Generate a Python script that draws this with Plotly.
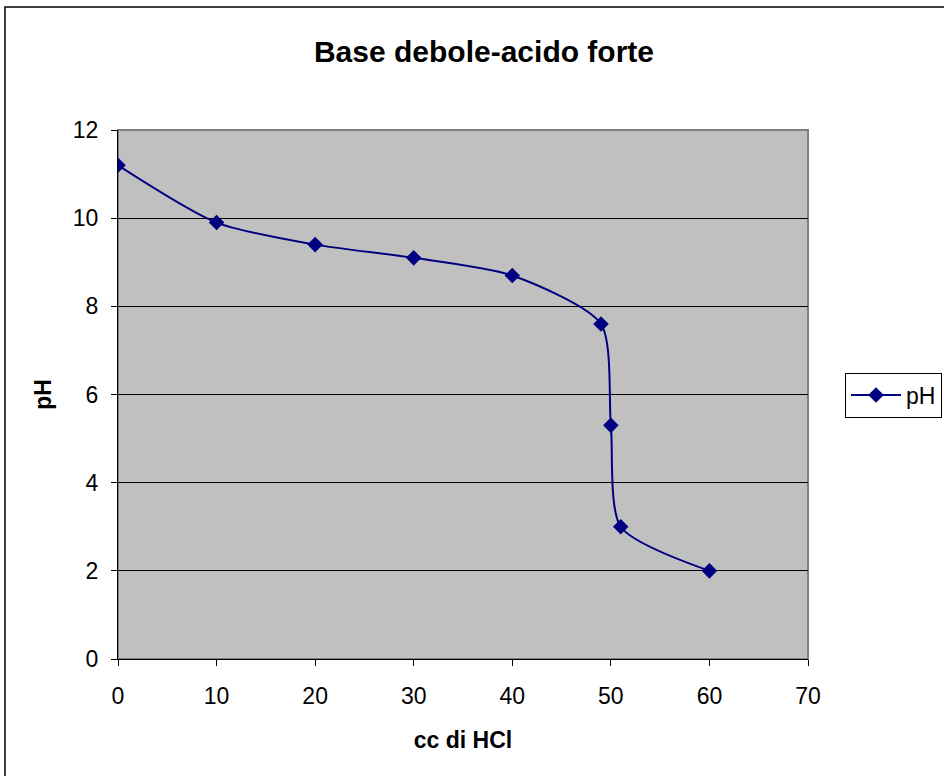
import plotly.graph_objects as go

cc_hcl = [0, 10, 20, 30, 40, 49, 50, 51, 60]
ph_values = [11.2, 9.9, 9.4, 9.1, 8.7, 7.6, 5.3, 3.0, 2.0]
x_ticks = [0, 10, 20, 30, 40, 50, 60, 70]
y_ticks = [0, 2, 4, 6, 8, 10, 12]

FONT = "Liberation Sans, Arial, sans-serif"
NAVY = "#000080"

fig = go.Figure()
fig.add_trace(go.Scatter(
    x=cc_hcl, y=ph_values, name="pH", mode="lines+markers",
    line=dict(color=NAVY, width=2, shape="spline", smoothing=0.7),
    marker=dict(symbol="diamond", size=12, color=NAVY),
))

L, R, T, B = 118, 808, 130, 659
W, H = 944, 776
pw, ph = R - L, B - T

shapes = [
    dict(type="rect", xref="paper", yref="paper", x0=0, y0=0, x1=1, y1=1,
         line=dict(color="#808080", width=2), layer="below"),
    dict(type="rect", xref="paper", yref="paper",
         x0=(5 - L) / pw, x1=(1000 - L) / pw,
         y0=(B - 820) / ph, y1=(B - 7) / ph,
         line=dict(color="black", width=1.5)),
]

fig.update_layout(
    width=W, height=H,
    margin=dict(l=L, r=W - R, t=T, b=H - B, autoexpand=False),
    paper_bgcolor="white", plot_bgcolor="#C0C0C0",
    font=dict(family=FONT, color="black", size=23),
    title=dict(text="<b>Base debole-acido forte</b>", x=484 / W, xanchor="center",
               y=1 - 51 / H, yanchor="middle", font=dict(size=30, family=FONT)),
    xaxis=dict(range=[0, 70], tickvals=x_ticks, ticks="outside", ticklen=6,
               tickcolor="black", showline=True, linecolor="black", linewidth=1,
               showgrid=False, zeroline=False, ticklabelstandoff=10,
               tickfont=dict(size=23),
               title=dict(text="<b>cc di HCl</b>", font=dict(size=23), standoff=24)),
    yaxis=dict(range=[0, 12], tickvals=y_ticks, ticks="outside", ticklen=6,
               tickcolor="black", showline=True, linecolor="black", linewidth=1,
               showgrid=True, gridcolor="black", gridwidth=1, zeroline=False,
               ticklabelstandoff=8, tickfont=dict(size=23),
               title=dict(text="<b>pH</b>", font=dict(size=23), standoff=14)),
    legend=dict(x=(845 - L) / pw, y=(B - 395) / ph, xanchor="left", yanchor="middle",
                bordercolor="black", borderwidth=1, bgcolor="white",
                itemwidth=50, font=dict(size=23)),
    showlegend=True,
    shapes=shapes,
)

fig.write_html("out.html")
